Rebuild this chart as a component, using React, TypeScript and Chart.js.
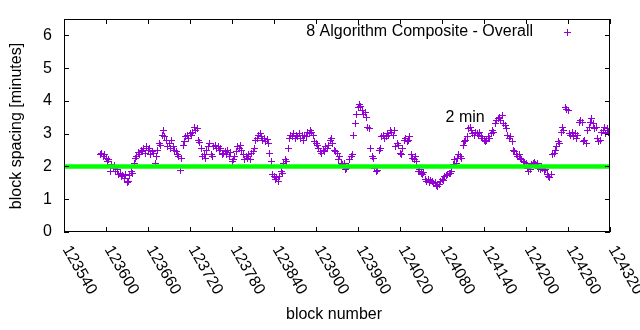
import React, { useEffect, useRef } from "react";
import { Chart, registerables } from "chart.js";
Chart.register(...registerables);

// ---- data ----
const START_BLOCK = 123592;
const BLOCK_STEP = 2;
const spacingMinutes = [
  2.35, 2.4, 2.3, 2.38, 2.25, 2.15, 2.2, 1.85, 2.05, 1.95,
  2.02, 1.85, 1.9, 1.75, 1.8, 1.68, 1.72, 1.62, 1.75, 1.5,
  1.55, 1.72, 1.85, 1.8, 2.1, 2.25, 2.3, 2.42, 2.35, 2.5,
  2.45, 2.55, 2.4, 2.6, 2.5, 2.55, 2.35, 2.45, 2.4, 2.1,
  2.3, 2.5, 2.7, 2.65, 2.95, 3.1, 2.9, 2.8, 2.62, 2.7,
  2.55, 2.8, 2.6, 2.5, 2.45, 2.35, 2.3, 1.88, 2.25, 2.65,
  2.75, 2.9, 2.95, 2.85, 3.0, 2.95, 3.05, 3.2, 3.1, 3.15,
  2.8, 2.72, 2.55, 2.3, 2.35, 2.25, 2.5, 2.6, 2.7, 2.35,
  2.3, 2.6, 2.65, 2.55, 2.6, 2.48, 2.55, 2.35, 2.4, 2.45,
  2.35, 2.5, 2.3, 2.42, 2.15, 2.2, 2.3, 2.45, 2.6, 2.55,
  2.65, 2.5, 2.35, 2.2, 2.3, 2.25, 2.35, 2.2, 2.4, 2.45,
  2.55, 2.8, 2.85, 2.95, 3.0, 2.9, 2.8, 2.85, 2.75, 2.82,
  2.7, 2.4, 2.15, 1.75, 1.7, 1.6, 1.65, 1.55, 1.7, 1.85,
  1.8, 2.1, 2.2, 2.15, 2.55, 2.85, 2.95, 2.9, 3.0, 2.85,
  2.95, 2.9, 3.0, 2.85, 2.95, 2.8, 2.95, 2.9, 3.05, 3.0,
  3.1, 3.05, 2.95, 2.75, 2.7, 2.65, 2.55, 2.45, 2.4, 2.5,
  2.45, 2.6, 2.55, 2.65, 2.8, 2.85, 2.7, 2.5, 2.45, 2.4,
  2.2, 2.3, 2.1, 2.05, 2.1, 1.9, 1.95, 2.0, 2.2, 2.3,
  2.35, 2.95, 3.3, 3.6, 3.8, 3.9, 3.82, 3.7, 3.6, 3.65,
  3.5, 3.2, 3.15, 2.55, 2.3, 2.25, 1.95, 1.85, 1.88, 2.5,
  2.55, 2.9, 2.95, 2.85, 2.9, 3.0, 2.95, 3.1, 3.05, 2.95,
  3.1, 2.6, 2.7, 2.65, 2.4, 2.35, 2.55, 2.8, 2.85, 2.75,
  2.8, 2.9, 2.35, 2.25, 2.2, 2.3, 2.15, 1.85, 1.9, 1.8,
  1.75, 1.82, 1.6, 1.55, 1.6, 1.5, 1.58, 1.55, 1.48, 1.52,
  1.42, 1.38, 1.45, 1.55, 1.6, 1.58, 1.7, 1.72, 1.75, 1.8,
  1.78, 1.85, 2.05, 2.2, 2.1, 2.25, 2.35, 2.3, 2.25, 2.65,
  2.75, 2.8, 2.9, 3.15, 3.2, 3.1, 3.0, 2.95, 3.05, 3.0,
  2.95, 3.05, 2.9, 2.85, 2.8, 2.75, 2.8, 2.9, 2.85, 3.0,
  3.1, 3.05, 3.3, 3.4, 3.45, 3.5, 3.4, 3.55, 3.3, 3.25,
  3.15, 2.95, 2.85, 2.9, 2.75, 2.5, 2.45, 2.35, 2.3, 2.35,
  2.25, 2.2, 2.15, 2.12, 2.08, 1.95, 1.85, 1.9, 2.05, 2.1,
  2.12, 2.05, 2.1, 1.95, 1.9, 2.0, 1.95, 1.88, 1.92, 1.75,
  1.7, 1.65, 1.75, 2.35, 2.4, 2.5, 2.6, 2.75, 2.7, 3.05,
  3.2, 3.1, 3.8, 3.75, 3.7, 3.0, 2.95, 3.05, 2.9, 3.0,
  2.85, 2.95, 3.35, 3.4, 3.35, 2.75, 2.8, 2.7, 3.1, 3.2,
  3.35, 3.45, 3.3, 3.15, 3.2, 2.85, 2.75, 2.8, 3.05, 3.1,
  3.2, 3.0, 3.15, 3.05,
];
const TARGET_MINUTES = 2;
const X_MIN = 123540;
const X_MAX = 124320;
const xTicks = [123540, 123600, 123660, 123720, 123780, 123840, 123900, 123960, 124020, 124080, 124140, 124200, 124260, 124320];
const yTicks = [0, 1, 2, 3, 4, 5, 6];
const Y_MAX = 6.5;
const seriesLabel = "8 Algorithm Composite - Overall";
const targetLabel = "2 min";
const targetLabelBlock = 124113;
const targetLabelValue = 3.49;
const xTitle = "block number";
const yTitle = "block spacing [minutes]";

const PURPLE = "#9400d3";
const GREEN = "#00ff00";
const FONT = '16px "Liberation Sans", Arial, sans-serif';

function makeCross(): HTMLCanvasElement {
  const c = document.createElement("canvas");
  c.width = 7;
  c.height = 7;
  const g = c.getContext("2d")!;
  g.fillStyle = PURPLE;
  g.fillRect(3, 0, 1, 7);
  g.fillRect(0, 3, 7, 1);
  return c;
}

const crispPlugin = {
  id: "crispPoints",
  beforeDatasetsDraw(chart: any) {
    chart.ctx.imageSmoothingEnabled = false;
  },
};

const framePlugin = {
  id: "gnuplotFrame",
  afterDraw(chart: any) {
    const ctx = chart.ctx as CanvasRenderingContext2D;
    const { left, right, top, bottom } = chart.chartArea;
    const xs = chart.scales.x;
    const ys = chart.scales.y;
    ctx.save();
    ctx.strokeStyle = "#000";
    ctx.lineWidth = 1;
    ctx.strokeRect(left + 0.5, top + 0.5, right - left - 1, bottom - top - 1);
    const TL = 5;
    ctx.beginPath();
    xTicks.forEach((t) => {
      const px = Math.round(xs.getPixelForValue(t)) + 0.5;
      ctx.moveTo(px, bottom);
      ctx.lineTo(px, bottom - TL);
      ctx.moveTo(px, top);
      ctx.lineTo(px, top + TL);
    });
    yTicks.forEach((t) => {
      const py = Math.round(ys.getPixelForValue(t)) + 0.5;
      ctx.moveTo(left, py);
      ctx.lineTo(left + TL, py);
      ctx.moveTo(right, py);
      ctx.lineTo(right - TL, py);
    });
    ctx.stroke();

    ctx.fillStyle = "#000";
    ctx.font = FONT;
    // y tick labels
    ctx.textAlign = "right";
    ctx.textBaseline = "middle";
    yTicks.forEach((t) => {
      ctx.fillText(String(t), left - 12, ys.getPixelForValue(t));
    });
    // x tick labels rotated
    xTicks.forEach((t) => {
      const px = xs.getPixelForValue(t);
      ctx.save();
      ctx.translate(px + 2, bottom + 15);
      ctx.rotate((60 * Math.PI) / 180);
      ctx.textAlign = "left";
      ctx.textBaseline = "middle";
      ctx.fillText(String(t), 0, 0);
      ctx.restore();
    });
    // axis titles
    ctx.textAlign = "center";
    ctx.textBaseline = "middle";
    ctx.fillText(xTitle, 334, 315);
    ctx.save();
    ctx.translate(17, 126);
    ctx.rotate(-Math.PI / 2);
    ctx.fillText(yTitle, 0, 0);
    ctx.restore();

    // "2 min" label
    ctx.fillText(targetLabel, xs.getPixelForValue(targetLabelBlock), ys.getPixelForValue(targetLabelValue));

    // key
    ctx.textAlign = "right";
    ctx.fillText(seriesLabel, 533, 32);
    ctx.fillStyle = PURPLE;
    ctx.fillRect(567, 29, 1, 7);
    ctx.fillRect(564, 32, 7, 1);
    ctx.restore();
  },
};

export default function App() {
  const ref = useRef<HTMLCanvasElement | null>(null);
  useEffect(() => {
    if (!ref.current) return;
    const points = spacingMinutes.map((v, i) => ({ x: START_BLOCK + i * BLOCK_STEP, y: v }));
    const cross = makeCross();
    const chart = new Chart(ref.current, {
      type: "scatter",
      data: {
        datasets: [
          {
            type: "line",
            label: "2 min",
            data: [
              { x: X_MIN, y: TARGET_MINUTES },
              { x: X_MAX, y: TARGET_MINUTES },
            ],
            borderColor: GREEN,
            borderWidth: 4.5,
            pointRadius: 0,
            order: 0,
          } as any,
          {
            label: seriesLabel,
            data: points,
            pointStyle: cross as any,
            pointRadius: 3.5,
            borderWidth: 1,
            borderColor: PURPLE,
            backgroundColor: PURPLE,
            order: 1,
          },
        ],
      },
      options: {
        responsive: false,
        animation: false,
        layout: { padding: { left: 64, right: 30, top: 19, bottom: 98 } },
        plugins: { legend: { display: false }, tooltip: { enabled: false } },
        scales: {
          x: { type: "linear", min: X_MIN, max: X_MAX, display: false },
          y: { type: "linear", min: 0, max: Y_MAX, display: false },
        },
      },
      plugins: [crispPlugin, framePlugin],
    });
    return () => chart.destroy();
  }, []);
  return (
    <div style={{ position: "fixed", left: 0, top: 0, width: 640, height: 330, background: "#fff" }}>
      <canvas ref={ref} width={640} height={330} style={{ display: "block" }} />
    </div>
  );
}
